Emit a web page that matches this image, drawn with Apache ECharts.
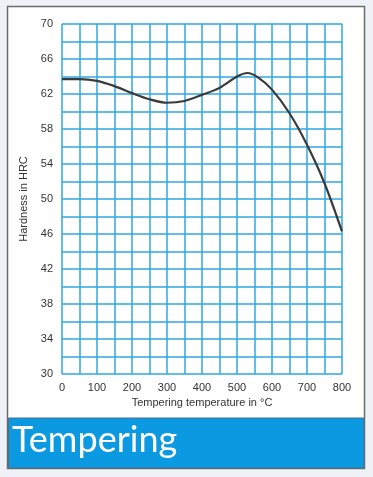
<!DOCTYPE html>
<html>
<head>
<meta charset="utf-8">
<script src="https://cdn.jsdelivr.net/npm/echarts@6/dist/echarts.min.js"></script>
<style>
html,body{margin:0;padding:0;background:#eef2f7;}
#c{width:373px;height:477px;}
</style>
</head>
<body>
<div id="c"></div>
<script>
// Tempering temperature (°C)
var temperatures = [0, 50, 100, 150, 200, 250, 300, 350, 400, 450, 500, 530, 560, 600, 650, 700, 750, 800];
// Hardness (HRC)
var hardness = [63.7, 63.7, 63.5, 62.9, 62.1, 61.4, 61.0, 61.2, 61.9, 62.7, 64.0, 64.4, 63.9, 62.5, 59.8, 56.2, 51.8, 46.3];
var yTickLabels = [30, 34, 38, 42, 46, 50, 54, 58, 62, 66, 70];
var xTickLabels = [0, 100, 200, 300, 400, 500, 600, 700, 800];
var xAxisTitle = 'Tempering temperature in \u00B0C';
var yAxisTitle = 'Hardness in HRC';
var bannerTitle = 'Tempering';

var chart = echarts.init(document.getElementById('c'), null, {renderer: 'canvas'});
var gridColor = '#2ea9e1';
var textColor = '#333333';
var font = 'Liberation Sans, Arial, sans-serif';

var option = {
  backgroundColor: '#eef2f7',
  animation: false,
  graphic: [
    {type: 'rect', z: -10, shape: {x: 7.5, y: 6.5, width: 357, height: 462},
     style: {fill: '#ffffff', stroke: '#6b6b6b', lineWidth: 1.5}},
    {type: 'rect', z: -9, shape: {x: 8.5, y: 418, width: 355.5, height: 50},
     style: {fill: '#0b9ae2', stroke: '#4f6f85', lineWidth: 1}},
    {type: 'text', z: 10, left: 12, top: 422,
     style: {text: bannerTitle, fill: '#ffffff', font: '36px Lato, "Open Sans", sans-serif'}}
  ],
  grid: {left: 62, right: 31, top: 24, bottom: 103, containLabel: false},
  xAxis: {
    type: 'value', min: 0, max: 800, interval: 50,
    name: xAxisTitle, nameLocation: 'middle', nameGap: 22,
    nameTextStyle: {color: textColor, fontSize: 11, fontFamily: font},
    axisLine: {show: false}, axisTick: {show: false},
    axisLabel: {
      color: textColor, fontSize: 11, fontFamily: font, margin: 8,
      formatter: function (v) { return xTickLabels.indexOf(v) >= 0 ? String(v) : ''; }
    },
    splitLine: {show: true, lineStyle: {color: gridColor, width: 1.5}}
  },
  yAxis: {
    type: 'value', min: 30, max: 70, interval: 2,
    name: yAxisTitle, nameLocation: 'middle', nameGap: 32, nameRotate: 90,
    nameTextStyle: {color: textColor, fontSize: 11, fontFamily: font},
    axisLine: {show: false}, axisTick: {show: false},
    axisLabel: {
      color: textColor, fontSize: 11, fontFamily: font, margin: 9,
      formatter: function (v) { return yTickLabels.indexOf(v) >= 0 ? String(v) : ''; }
    },
    splitLine: {show: true, lineStyle: {color: gridColor, width: 1.5}}
  },
  series: [{
    type: 'line',
    data: temperatures.map(function (t, i) { return [t, hardness[i]]; }),
    smooth: 0.3,
    showSymbol: false,
    lineStyle: {color: '#3a3a3a', width: 2.2},
    z: 5
  }]
};
chart.setOption(option);
</script>
</body>
</html>
